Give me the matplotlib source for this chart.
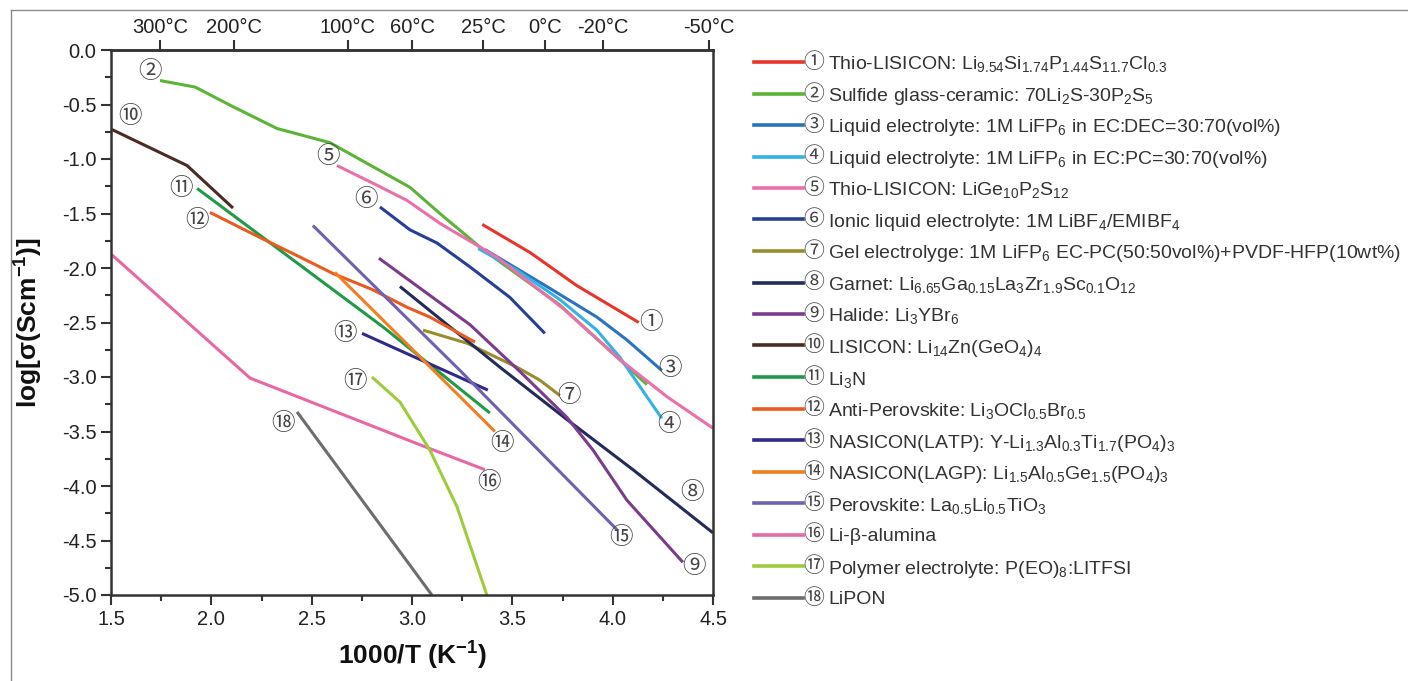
import matplotlib
matplotlib.use("Agg")
import matplotlib.pyplot as plt
from matplotlib.lines import Line2D
from matplotlib.ticker import MultipleLocator

plt.rcParams['font.family'] = ['Liberation Sans', 'DejaVu Sans']
plt.rcParams['mathtext.fontset'] = 'custom'
plt.rcParams['mathtext.rm'] = 'Liberation Sans'
plt.rcParams['mathtext.it'] = 'Liberation Sans:italic'
plt.rcParams['mathtext.bf'] = 'Liberation Sans:bold'
plt.rcParams['mathtext.default'] = 'rm'
plt.rcParams['axes.unicode_minus'] = False

# data: x = 1000/T, y = log(sigma)
x01 = [3.35, 3.59, 3.82, 4.13]
y01 = [-1.60, -1.86, -2.16, -2.50]
x02 = [1.744, 1.919, 2.108, 2.327, 2.591, 2.805, 2.990, 3.139, 3.353, 3.737, 4.171]
y02 = [-0.28, -0.34, -0.52, -0.72, -0.85, -1.07, -1.26, -1.50, -1.83, -2.34, -3.07]
x03 = [3.363, 3.672, 3.921, 4.071, 4.245]
y03 = [-1.83, -2.17, -2.45, -2.66, -2.94]
x04 = [3.329, 3.523, 3.737, 3.921, 4.036, 4.245]
y04 = [-1.82, -2.02, -2.29, -2.57, -2.82, -3.38]
x05 = [2.626, 2.825, 2.975, 3.139, 3.423, 3.752, 4.036, 4.270, 4.500]
y05 = [-1.06, -1.24, -1.38, -1.59, -1.90, -2.37, -2.84, -3.18, -3.47]
x06 = [2.840, 2.940, 2.990, 3.124, 3.289, 3.488, 3.662]
y06 = [-1.44, -1.58, -1.65, -1.77, -1.99, -2.27, -2.60]
x07 = [3.055, 3.274, 3.523, 3.638, 3.737]
y07 = [-2.57, -2.69, -2.91, -3.03, -3.17]
x08 = [2.940, 3.438, 3.772, 4.101, 4.500]
y08 = [-2.17, -2.91, -3.39, -3.85, -4.43]
x09 = [2.835, 3.289, 3.538, 3.772, 3.902, 4.071, 4.350]
y09 = [-1.91, -2.52, -2.95, -3.37, -3.67, -4.13, -4.70]
x10 = [1.505, 1.879, 2.108]
y10 = [-0.73, -1.06, -1.45]
x11 = [1.929, 2.855, 3.388]
y11 = [-1.27, -2.54, -3.33]
x12 = [1.993, 2.242, 2.442, 2.606, 2.805, 2.975, 3.089, 3.314]
y12 = [-1.49, -1.72, -1.90, -2.05, -2.20, -2.36, -2.45, -2.68]
x13 = [2.751, 3.378]
y13 = [-2.60, -3.12]
x14 = [2.616, 3.015, 3.413]
y14 = [-2.04, -2.77, -3.50]
x15 = [2.506, 3.239, 4.021]
y15 = [-1.61, -2.94, -4.40]
x16 = [1.505, 2.193, 3.065, 3.363]
y16 = [-1.88, -3.01, -3.64, -3.85]
x17 = [2.800, 2.940, 3.089, 3.224, 3.373]
y17 = [-3.00, -3.23, -3.67, -4.19, -5.00]
x18 = [2.427, 3.099]
y18 = [-3.32, -5.00]

circled = ['①', '②', '③', '④', '⑤', '⑥', '⑦', '⑧', '⑨',
           '⑩', '⑪', '⑫', '⑬', '⑭', '⑮', '⑯', '⑰', '⑱']

names = [
    r"Thio-LISICON: Li$_{9.54}$Si$_{1.74}$P$_{1.44}$S$_{11.7}$Cl$_{0.3}$",
    r"Sulfide glass-ceramic: 70Li$_2$S-30P$_2$S$_5$",
    r"Liquid electrolyte: 1M LiFP$_6$ in EC:DEC=30:70(vol%)",
    r"Liquid electrolyte: 1M LiFP$_6$ in EC:PC=30:70(vol%)",
    r"Thio-LISICON: LiGe$_{10}$P$_2$S$_{12}$",
    r"Ionic liquid electrolyte: 1M LiBF$_4$/EMIBF$_4$",
    r"Gel electrolyge: 1M LiFP$_6$ EC-PC(50:50vol%)+PVDF-HFP(10wt%)",
    r"Garnet: Li$_{6.65}$Ga$_{0.15}$La$_3$Zr$_{1.9}$Sc$_{0.1}$O$_{12}$",
    r"Halide: Li$_3$YBr$_6$",
    r"LISICON: Li$_{14}$Zn(GeO$_4$)$_4$",
    r"Li$_3$N",
    r"Anti-Perovskite: Li$_3$OCl$_{0.5}$Br$_{0.5}$",
    r"NASICON(LATP): Y-Li$_{1.3}$Al$_{0.3}$Ti$_{1.7}$(PO$_4$)$_3$",
    r"NASICON(LAGP): Li$_{1.5}$Al$_{0.5}$Ge$_{1.5}$(PO$_4$)$_3$",
    r"Perovskite: La$_{0.5}$Li$_{0.5}$TiO$_3$",
    r"Li-β-alumina",
    r"Polymer electrolyte: P(EO)$_8$:LITFSI",
    r"LiPON",
]

colors = ['#e8352a', '#5cb338', '#2b72c0', '#33b2e8', '#ea6fab', '#283f98',
          '#9a8c2c', '#222b5a', '#7b3c8e', '#4b2b24', '#1e9a48', '#e95b1e',
          '#2f2a88', '#f07f22', '#6f63b1', '#e868a4', '#9dcb3c', '#6d6d6d']

# where the circled numbers sit next to each curve
label_x = [4.191, 1.694, 4.285, 4.280, 2.581, 2.771, 3.782, 4.395, 4.405,
           1.595, 1.849, 1.929, 2.666, 3.448, 4.041, 3.383, 2.716, 2.357]
label_y = [-2.50, -0.20, -2.92, -3.44, -0.98, -1.37, -3.17, -4.06, -4.74,
           -0.61, -1.27, -1.56, -2.60, -3.61, -4.47, -3.97, -3.04, -3.43]

top_temps_c = [300, 200, 100, 60, 25, 0, -20, -50]

series = [(x01, y01), (x02, y02), (x03, y03), (x04, y04), (x05, y05), (x06, y06),
          (x07, y07), (x08, y08), (x09, y09), (x10, y10), (x11, y11), (x12, y12),
          (x13, y13), (x14, y14), (x15, y15), (x16, y16), (x17, y17), (x18, y18)]

CIRC_FONT = ['Noto Sans CJK JP', 'DejaVu Sans']

W, H = 1408, 681
fig = plt.figure(figsize=(W / 100, H / 100), dpi=100)
ax = fig.add_axes([111 / W, 1 - 595 / H, 602 / W, 545 / H])

for (xs, ys), c in zip(series, colors):
    ax.plot(xs, ys, color=c, lw=2.2, solid_capstyle='butt')

for lx, ly, s in zip(label_x, label_y, circled):
    ax.text(lx, ly, s, ha='center', va='center', fontsize=17,
            family=CIRC_FONT, color='#444444')

ax.set_xlim(1.5, 4.5)
ax.set_ylim(-5.0, 0.0)
ax.xaxis.set_major_locator(MultipleLocator(0.5))
ax.xaxis.set_minor_locator(MultipleLocator(0.25))
ax.yaxis.set_major_locator(MultipleLocator(0.5))
ax.yaxis.set_minor_locator(MultipleLocator(0.25))
ax.xaxis.set_major_formatter(plt.FormatStrFormatter('%.1f'))
ax.yaxis.set_major_formatter(plt.FormatStrFormatter('%.1f'))
ax.tick_params(which='major', direction='out', length=7, width=1.5,
               labelsize=14.5, colors='#333333', labelcolor='#222222')
ax.tick_params(which='minor', direction='out', length=4, width=1.5, colors='#333333')
ax.tick_params(top=False, right=False)
for sp in ax.spines.values():
    sp.set_linewidth(1.8)
    sp.set_color('#333333')

ax.set_xlabel(r"1000/T (K$^{\mathbf{-1}}$)", fontsize=19, fontweight='bold',
              color='#111111', labelpad=8)
ax.set_ylabel(r"log[σ(Scm$^{\mathbf{-1}}$)]", fontsize=19, fontweight='bold',
              color='#111111', labelpad=12)

sec = ax.secondary_xaxis('top')
sec.set_xticks([1000 / (t + 273.15) for t in top_temps_c],
               [f"{t}°C" for t in top_temps_c])
sec.tick_params(direction='out', length=7, width=1.5, labelsize=14.5,
                colors='#333333', labelcolor='#222222', pad=2)
sec.spines['top'].set_linewidth(1.8)
sec.spines['top'].set_color('#333333')

# hand-made legend on the right
for i, (c, s, n) in enumerate(zip(colors, circled, names)):
    yy = 1 - (62 + i * 31.5) / H
    fig.add_artist(Line2D([754 / W, 803 / W], [yy, yy], transform=fig.transFigure,
                          color=c, lw=2.6))
    fig.text(814 / W, yy, s, ha='center', va='center', fontsize=15,
             family=CIRC_FONT, color='#444444')
    fig.text(828 / W, yy, n, ha='left', va='center_baseline', fontsize=14,
             color='#333333')

# thin grey frame around the picture
fig.add_artist(Line2D([11 / W, 11 / W], [0, 1 - 10 / H], transform=fig.transFigure,
                      color='#8a8a8a', lw=1.0))
fig.add_artist(Line2D([11 / W, 1], [1 - 10 / H, 1 - 10 / H], transform=fig.transFigure,
                      color='#8a8a8a', lw=1.0))

fig.savefig("out.png", dpi=100)
